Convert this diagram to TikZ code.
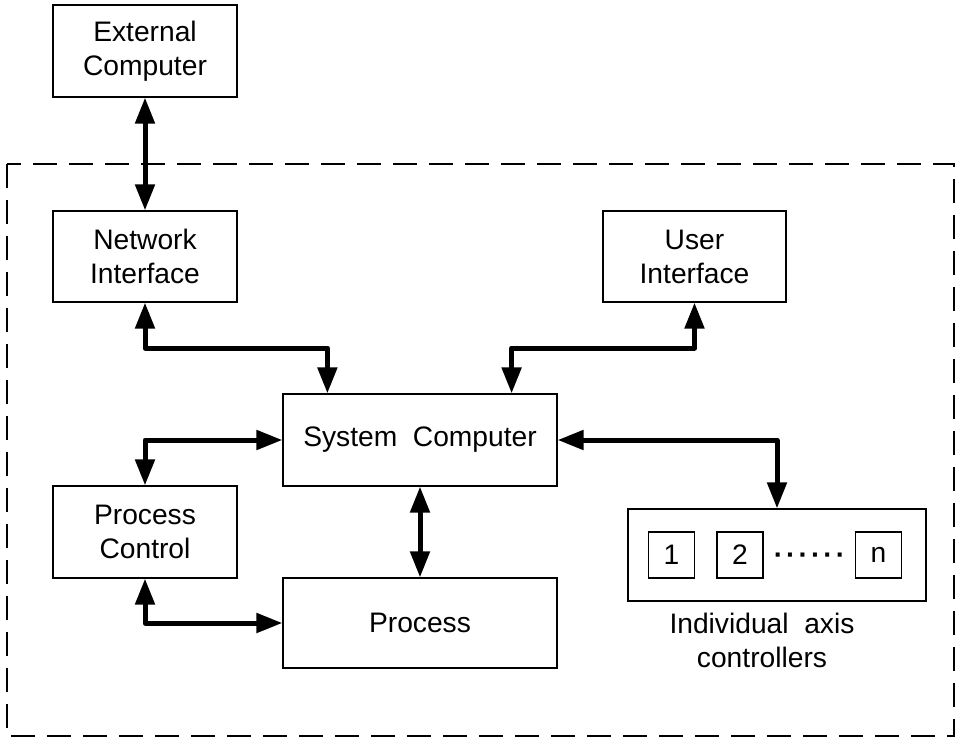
\documentclass[tikz,border=0pt]{standalone}
\usepackage{fontspec}
\setmainfont{Liberation Sans}
\usetikzlibrary{arrows.meta,calc}
\begin{document}
\begin{tikzpicture}[x=1pt,y=-1pt,
  txt/.style={font=\fontsize{28.2}{34}\selectfont,align=center},
  box/.style={draw,line width=1.2pt,rectangle,inner sep=0pt,txt},
  small/.style={draw,line width=1.2pt,rectangle,inner sep=0pt,minimum width=46pt,minimum height=46pt,txt},
  conn/.style={line width=5pt,line join=round,{Triangle[length=26pt,width=19pt]}-{Triangle[length=26pt,width=19pt]}},
  boundary/.style={line width=1.2pt,dash pattern=on 24pt off 12pt}
]
\fill[white] (0,0) rectangle (959,737);
\useasboundingbox (0,0) rectangle (959,737);

\draw[boundary] (7,164) rectangle (954,736);

\node[box,minimum width=184pt,minimum height=92pt] (ext) at (145,51) {External\\Computer};
\node[box,minimum width=184pt,minimum height=91pt] (ni) at (145,256.5) {Network\\Interface};
\node[box,minimum width=183pt,minimum height=91pt] (ui) at (694.5,256.5) {User\\Interface};
\node[box,minimum width=274pt,minimum height=92pt] (sc) at (420,440) {System\ \ Computer};
\node[box,minimum width=184pt,minimum height=92pt] (pc) at (145,532) {Process\\Control};
\node[box,minimum width=274pt,minimum height=90pt] (proc) at (420,623) {Process};
\node[box,minimum width=298pt,minimum height=92pt] (axis) at (777,555) {};
\node[small] (b1) at (671.5,555) {1};
\node[small] (b2) at (740,555) {2};
\node[small] (bn) at (878.5,555) {n};
\node[txt,anchor=base,inner sep=0pt,font=\fontsize{28.2}{34}\selectfont\bfseries] (dots) at (809.5,564) {·\hspace{3pt}·\hspace{3pt}·\hspace{3pt}·\hspace{3pt}·\hspace{3pt}·};
\node[txt,inner sep=0pt] (lbl) at (762,640) {Individual\ \ axis\\controllers};

\draw[conn] (ext.south) -- (ni.north);
\draw[conn] (ni.south) -- (ni.south |- 0,348) -| ([xshift=45pt]sc.north west);
\draw[conn] (ui.south) -- (ui.south |- 0,348) -| ([xshift=-46pt]sc.north east);
\draw[conn] (sc.west) -| (pc.north);
\draw[conn] (sc.south) -- (proc.north);
\draw[conn] (pc.south) |- (proc.west);
\draw[conn] (sc.east) -| (axis.north);
\end{tikzpicture}
\end{document}
